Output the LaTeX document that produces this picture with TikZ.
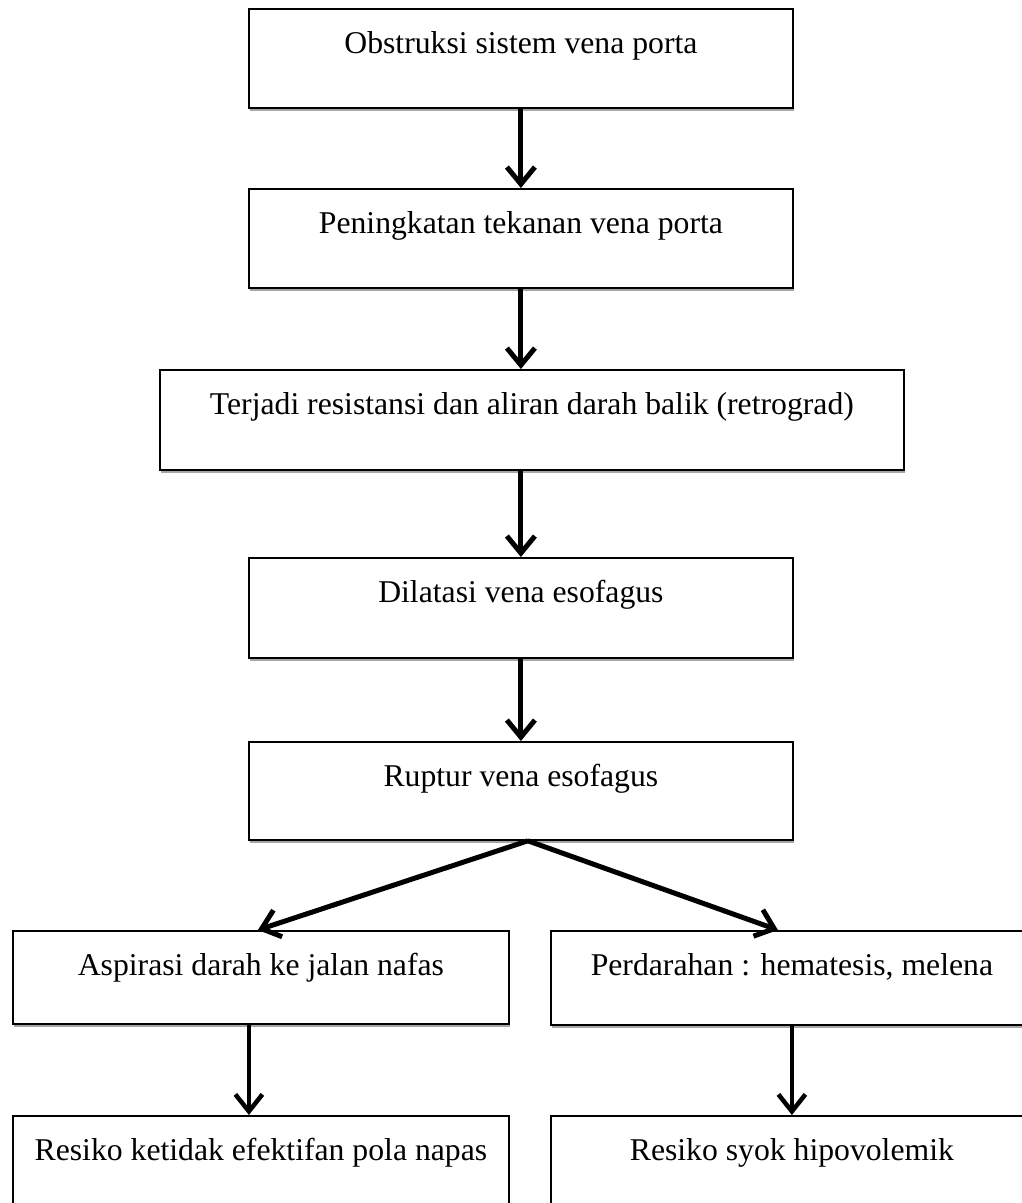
\documentclass[tikz,border=0pt]{standalone}
\usepackage{fontspec}
\setmainfont{Liberation Serif}
\usetikzlibrary{arrows.meta,shadows}
\begin{document}
\begin{tikzpicture}[x=1pt,y=1pt,
  box/.style={draw, line width=1.8pt, fill=white, anchor=north west,
    inner xsep=0pt, inner ysep=0pt, text height=45pt,
    font=\fontsize{31.7}{38}\selectfont,
    drop shadow={shadow xshift=1pt, shadow yshift=-3pt, fill=black, opacity=0.35}},
  arr/.style={line width=5pt, -{Straight Barb[length=17pt,width=28pt]}},
  arrthin/.style={line width=4.5pt, -{Straight Barb[length=17pt,width=27pt]}}]
\useasboundingbox (0,0) rectangle (1022,-1203);
\clip (0,0) rectangle (1022,-1203);
\fill[white] (0,0) rectangle (1022,-1203);
\node[box, minimum width=544pt, text depth=54pt] (b1) at (248,-8) {Obstruksi sistem vena porta};
\node[box, minimum width=544pt, text depth=54pt] (b2) at (248,-188) {Peningkatan tekanan vena porta};
\node[box, minimum width=744pt, text depth=55pt] (b3) at (159,-369) {Terjadi resistansi dan aliran darah balik (retrograd)};
\node[box, minimum width=544pt, text depth=55pt] (b4) at (248,-557) {Dilatasi vena esofagus};
\node[box, minimum width=544pt, text depth=53pt] (b5) at (248,-741) {Ruptur vena esofagus};
\node[box, minimum width=496pt, text depth=48pt] (b6) at (12,-930) {Aspirasi darah ke jalan nafas};
\node[box, minimum width=482pt, text depth=49pt] (b7) at (550,-930) {Perdarahan : hematesis, melena};
\node[box, minimum width=496pt, text depth=50pt] (b8) at (12,-1115) {Resiko ketidak efektifan pola napas};
\node[box, minimum width=482pt, text depth=50pt] (b9) at (550,-1115) {Resiko syok hipovolemik};
\draw[arr] (b1.south) -- (b2.north);
\draw[arr] (b2.south) -- (b2.south |- b3.north);
\draw[arr] (b2.south |- b3.south) -- (b4.north);
\draw[arr] (b4.south) -- (b5.north);
\coordinate (apex) at ([xshift=7pt]b5.south);
\draw[arr] (apex) -- ([xshift=-3pt]b6.north);
\draw[arr] (apex) -- ([xshift=-14pt]b7.north);
\draw[arrthin] ([xshift=-12pt]b6.south) -- ([xshift=-12pt]b8.north);
\draw[arrthin] (b7.south) -- (b9.north);
\end{tikzpicture}
\end{document}
